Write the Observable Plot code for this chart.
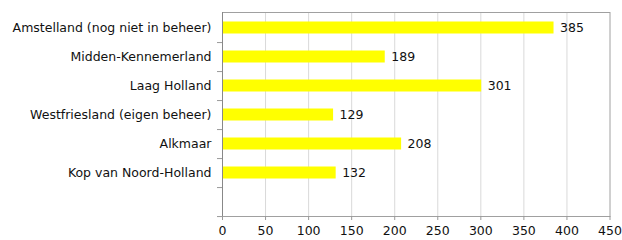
<!DOCTYPE html>
<html>
<head>
<meta charset="utf-8">
<script src="https://cdn.jsdelivr.net/npm/d3@7"></script>
<script src="https://cdn.jsdelivr.net/npm/@observablehq/plot@0.6"></script>
<style>
  html, body { margin: 0; padding: 0; background: #fff; }
  #chart svg { display: block; }
</style>
</head>
<body>
<div id="chart"></div>
<script>
const categories = [
  "Amstelland (nog niet in beheer)",
  "Midden-Kennemerland",
  "Laag Holland",
  "Westfriesland (eigen beheer)",
  "Alkmaar",
  "Kop van Noord-Holland",
  " "
];
const values = [385, 189, 301, 129, 208, 132];
const xTicks = [0, 50, 100, 150, 200, 250, 300, 350, 400, 450];

const data = values.map((v, i) => ({name: categories[i], value: v}));

const W = 622, H = 240;
const mTop = 12, mBottom = 24, mLeft = 222, mRight = 12.5;
const step = (H - mTop - mBottom) / categories.length;

const chart = Plot.plot({
  width: W,
  height: H,
  marginTop: mTop,
  marginBottom: mBottom,
  marginLeft: mLeft,
  marginRight: mRight,
  style: {fontFamily: "'DejaVu Sans', Verdana, sans-serif", fontSize: "12.5px", color: "#111", background: "#fff"},
  x: {domain: [0, 450], ticks: xTicks},
  y: {domain: categories, padding: 0},
  marks: [
    Plot.gridX(xTicks.slice(1, -1), {stroke: "#d9d9d9", strokeOpacity: 1}),
    Plot.barX(data, {y: "name", x: "value", fill: "#ffff00", insetTop: 8.5, insetBottom: 8.5}),
    Plot.text(data, {y: "name", x: "value", text: d => String(d.value), textAnchor: "start", dx: 6, fill: "#111", fontSize: 12.5}),
    Plot.frame({stroke: "#a0a0a0"}),
    Plot.ruleX([0], {stroke: "#888"}),
    Plot.ruleY(categories, {y: d => d, x1: 0, x2: 0, insetLeft: -5, dy: step / 2, stroke: "#999"}),
    Plot.axisY({tickSize: 0, tickPadding: 11, label: null, fontSize: 12.5}),
    Plot.axisX({ticks: xTicks, tickSize: 4, tickPadding: 6, label: null, stroke: "#999", fontSize: 12.5})
  ]
});

document.getElementById("chart").appendChild(chart);
</script>
</body>
</html>
